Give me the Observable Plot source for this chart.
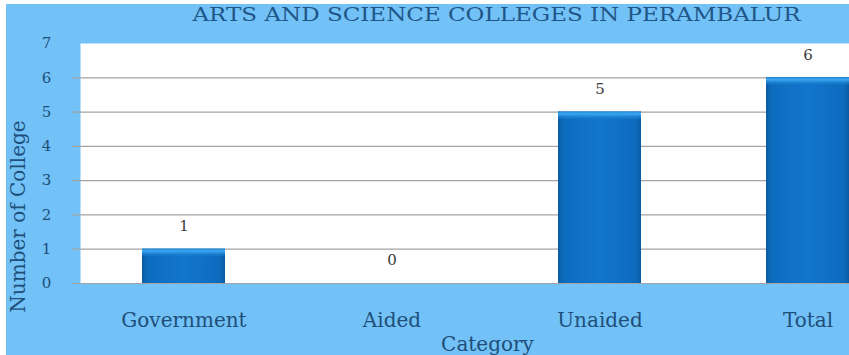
<!DOCTYPE html>
<html>
<head>
<meta charset="utf-8">
<script src="https://cdn.jsdelivr.net/npm/d3@7"></script>
<script src="https://cdn.jsdelivr.net/npm/@observablehq/plot@0.6"></script>
<style>
  html, body { margin: 0; padding: 0; background: #ffffff; }
  #chart { position: absolute; left: 6px; top: 4px; }
  #chart svg { display: block; background: #72c1f7; }
</style>
</head>
<body>
<div id="chart"></div>
<script>
const categories = ["Government", "Aided", "Unaided", "Total"];
const colleges = [1, 0, 5, 6];
const yTicks = [0, 1, 2, 3, 4, 5, 6, 7];
const titleText = "ARTS AND SCIENCE COLLEGES IN PERAMBALUR";
const xLabel = "Category";
const yLabel = "Number of College";

const data = categories.map((c, i) => ({category: c, value: colleges[i]}));
const serif = "'DejaVu Serif', serif";

const plot = Plot.plot({
  width: 843,
  height: 351,
  marginLeft: 74,
  marginRight: 0,
  marginTop: 39,
  marginBottom: 72,
  style: {fontFamily: serif, background: "#72c1f7", overflow: "hidden"},
  x: {domain: categories, range: [72.75, 906.75], paddingInner: 0.6, paddingOuter: 0.3},
  y: {domain: [0, 7], range: [279, 39]},
  marks: [
    Plot.frame({fill: "white", stroke: null}),
    Plot.ruleY(yTicks.filter(d => d < 7), {stroke: "#a3a3a3", strokeWidth: 1.2, insetLeft: -8}),
    Plot.barY(data, {x: "category", y: "value", fill: "url(#barBody)"}),
    Plot.barY(data.filter(d => d.value > 0), {x: "category", y1: "value", y2: "value", insetBottom: -8, fill: "url(#barTop)"}),
    Plot.axisY({ticks: yTicks, tickFormat: d3.format("d"), tickSize: 0, tickPadding: 34, textAnchor: "middle", fontSize: 15, fill: "#1e4f7a", label: null}),
    Plot.axisX({tickSize: 0, tickPadding: 29, fontSize: 20, fill: "#1e4f7a", label: null}),
    Plot.text(data, {x: "category", y: "value", text: d => String(d.value), dy: -23, fontSize: 15, fill: "#3a3a3a"}),
    Plot.text([titleText], {frameAnchor: "top", dx: 31.5, dy: -29, lineAnchor: "middle", fontSize: 19, fill: "#1f5688"}),
    Plot.text([xLabel], {frameAnchor: "bottom", dx: 22.5, dy: 61, lineAnchor: "middle", fontSize: 20, fill: "#1e4f7a"}),
    Plot.text([yLabel], {frameAnchor: "left", textAnchor: "middle", dx: -62, dy: 53, rotate: -90, lineAnchor: "middle", fontSize: 20, fill: "#1e4f7a"})
  ]
});

const svgSel = d3.select(plot);
const defs = svgSel.insert("defs", ":first-child");
const bodyGrad = defs.append("linearGradient").attr("id", "barBody").attr("x1", "0").attr("x2", "1").attr("y1", "0").attr("y2", "0");
bodyGrad.append("stop").attr("offset", "0").attr("stop-color", "#0a5a9f");
bodyGrad.append("stop").attr("offset", "0.06").attr("stop-color", "#0d6bbd");
bodyGrad.append("stop").attr("offset", "0.5").attr("stop-color", "#1276cc");
bodyGrad.append("stop").attr("offset", "0.94").attr("stop-color", "#0d6bbd");
bodyGrad.append("stop").attr("offset", "1").attr("stop-color", "#0a5a9f");
const topGrad = defs.append("linearGradient").attr("id", "barTop").attr("x1", "0").attr("x2", "0").attr("y1", "0").attr("y2", "1");
topGrad.append("stop").attr("offset", "0").attr("stop-color", "#1e88dc");
topGrad.append("stop").attr("offset", "0.3").attr("stop-color", "#3ca8f0");
topGrad.append("stop").attr("offset", "1").attr("stop-color", "#1276cc").attr("stop-opacity", "0.2");

// Title width to match the reference lettering
svgSel.selectAll("text").filter(function() { return this.textContent === titleText; })
  .attr("textLength", 608).attr("lengthAdjust", "spacingAndGlyphs");

document.getElementById("chart").appendChild(plot);
</script>
</body>
</html>
